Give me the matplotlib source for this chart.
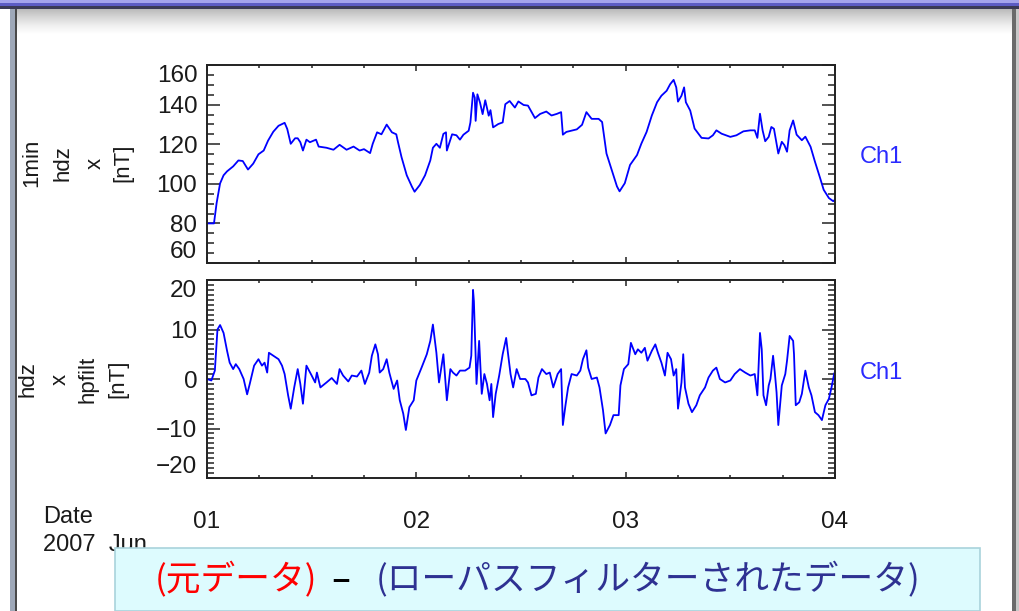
import matplotlib
matplotlib.use('Agg')
import matplotlib.pyplot as plt
from matplotlib.patches import Rectangle
from matplotlib.ticker import MultipleLocator
import numpy as np

# ---------------- data (hours since 2007-06-01 00:00 UT) ----------------
top_hours = [0.0, 0.8, 1.1, 1.5, 1.9, 2.3, 3.0, 3.6, 4.1, 4.7, 5.3, 5.9, 6.5, 7.0, 7.6,
             8.2, 8.9, 9.2, 9.6, 10.1, 10.4, 10.7, 11.0, 11.4, 11.8, 12.5, 12.8, 13.7,
             14.5, 15.2, 16.0, 16.8, 17.5, 18.0, 18.7, 19.0, 19.5, 20.0, 20.6, 21.2,
             21.7, 21.9, 22.3, 22.9, 23.5, 23.8, 24.4, 25.0, 25.6, 25.9, 26.3, 26.7,
             27.1, 27.4, 27.5, 28.1, 28.6, 29.0, 29.4, 30.0, 30.2, 30.5, 30.7, 30.8,
             31.0, 31.3, 31.6, 31.9, 32.3, 32.5, 32.8, 33.4, 33.9, 34.2, 34.7, 35.3,
             35.7, 36.3, 36.8, 37.6, 38.2, 38.9, 39.5, 40.1, 40.6, 40.8, 41.2, 42.4,
             43.0, 43.5, 44.1, 44.9, 45.3, 45.8, 46.4, 47.0, 47.3, 47.9, 48.5, 49.3,
             49.8, 50.4, 51.0, 51.6, 52.1, 52.7, 53.1, 53.5, 53.8, 54.0, 54.4, 54.7,
             54.9, 55.4, 55.9, 56.7, 57.5, 58.0, 58.4, 59.0, 60.0, 60.7, 61.5, 62.3,
             62.8, 63.1, 63.4, 63.7, 64.0, 64.4, 64.7, 65.0, 65.5, 65.9, 66.2, 66.5,
             66.8, 67.2, 67.6, 68.2, 68.6, 69.2, 69.7, 70.3, 70.7, 71.3, 71.8, 72.0]
top_nT = [80, 80, 90.2, 100.2, 104.3, 106.3, 108.8, 111.8, 111.5, 107.2, 110.2, 114.9,
          116.8, 121.8, 126.3, 129.3, 130.8, 127.7, 120.2, 123, 123, 121, 116.8, 122.3,
          121, 122.3, 118.8, 118.2, 117.2, 119.7, 117.2, 118.8, 116.8, 117.5, 115.5,
          120.2, 126, 125, 129.9, 126, 125, 121, 113.5, 104.3, 98.5, 96, 99.4, 104.3,
          111.8, 118.2, 120.2, 118.2, 125.2, 126, 116.8, 125, 124.5, 122.3, 124.8,
          126.8, 131, 146, 143.5, 131.8, 145.2, 141, 135.2, 142.2, 134.4, 137.2, 128.5,
          130.2, 131, 140.2, 141.8, 138.5, 141.6, 139.8, 139.5, 133.2, 135.3, 136.5,
          134.5, 135.3, 136.2, 124.8, 126.2, 127.5, 129.8, 136.2, 132.8, 132.8, 131.2,
          115.3, 107, 98.7, 96.2, 100.3, 109.5, 114.5, 120.3, 126.2, 134.5, 141.2,
          144.5, 147, 150.3, 152.5, 148.7, 141.5, 144.5, 148.7, 141.2, 137, 127.9,
          123.2, 122.9, 124.5, 127, 125.3, 123.7, 124.5, 126.5, 127, 127, 123.2, 135.4,
          127, 121.5, 123.7, 128.7, 127.8, 115.3, 121.2, 119.5, 116.2, 127, 132, 124.8,
          122, 123.8, 118.7, 111.2, 102.8, 97, 92.8, 91.2, 92]

hp_hours = [0.0, 0.5, 0.9, 1.2, 1.5, 1.9, 2.3, 2.6, 3.0, 3.3, 3.7, 4.2, 4.6, 4.9, 5.4,
            5.9, 6.3, 6.6, 6.9, 7.1, 7.6, 8.2, 8.6, 8.9, 9.3, 9.6, 10.0, 10.4, 10.7,
            11.0, 11.4, 12.0, 12.4, 12.6, 13.0, 13.7, 14.3, 14.9, 15.2, 15.6, 16.2,
            16.6, 17.2, 17.7, 18.1, 18.6, 18.9, 19.3, 19.6, 19.8, 20.2, 20.6, 20.9,
            21.4, 21.8, 22.1, 22.5, 22.8, 23.2, 23.7, 24.0, 24.6, 25.2, 25.6, 25.9,
            26.3, 26.6, 27.1, 27.5, 27.9, 28.2, 28.6, 29.0, 29.6, 30.1, 30.3, 30.5,
            30.6, 30.9, 31.2, 31.5, 31.8, 32.1, 32.4, 32.6, 32.8, 33.1, 33.5, 33.9,
            34.3, 34.5, 34.8, 35.1, 35.5, 35.9, 36.5, 36.8, 37.2, 37.7, 38.0, 38.4,
            38.9, 39.3, 39.7, 40.2, 40.6, 40.8, 41.1, 41.4, 41.8, 42.4, 42.8, 43.1,
            43.5, 43.7, 44.1, 44.7, 45.0, 45.4, 45.7, 46.2, 46.6, 47.2, 47.4, 47.8,
            48.3, 48.6, 49.1, 49.4, 49.8, 50.2, 50.5, 51.0, 51.4, 51.7, 52.1, 52.5,
            52.8, 53.2, 53.5, 53.8, 54.0, 54.4, 54.6, 54.8, 55.2, 55.6, 56.1, 56.5,
            57.1, 57.5, 58.0, 58.4, 58.8, 59.4, 60.0, 60.5, 61.1, 61.7, 62.3, 62.8,
            63.1, 63.4, 63.6, 63.8, 64.1, 64.4, 64.6, 64.9, 65.1, 65.3, 65.5, 65.9,
            66.3, 66.5, 66.8, 67.2, 67.3, 67.5, 67.9, 68.2, 68.6, 69.0, 69.3, 69.7,
            70.1, 70.5, 70.9, 71.3, 71.6, 71.9, 72.0]
hp_nT = [0, -0.3, 1.7, 10, 10.9, 9.3, 5.7, 3.3, 2, 3, 2, 0, -3.1, -1, 2.7, 4, 2.7,
         3.3, 1.3, 5.3, 4.7, 4, 2.7, 1, -3.3, -6, -1.7, 2, -1, -5, 2.7, 0.7, -0.7,
         1.3, -1.7, -0.7, 0.2, -1, 2, 0.7, -0.5, 0.7, 0.5, 1.7, -1, 1.3, 4.7, 7, 5,
         1.3, 2, 4, 1.3, -2, -0.3, -4.3, -7, -10.3, -5.7, -4.3, -0.3, 2.3, 5, 7.7, 11,
         5.3, -0.7, 5, -4.3, 2, 1.3, 0.7, 1.7, 1.7, 2.3, 4.7, 18, 15.7, -1, 7.7, -3,
         1, -1, -4.3, -1, -7.7, -3, 0.7, 5, 8.3, 5.3, 1, -1.7, 2, 0, 0, -0.7, -3.3,
         -3, 0.3, 2, 1, 1.3, -1.7, 1, 2, -9.3, -5.3, -1.7, 1, 0.7, 1.7, 4, 5.8, 2.3,
         0, 0.3, -1.7, -6.3, -11, -9.3, -7.3, -7.3, -1.3, 2, 3, 7.3, 5, 6, 5.3, 6.3,
         3.7, 5.7, 7, 5.3, 3.3, 0.7, 5.3, 4, 0.7, 2, -6, -0.7, 5, -1.7, -5, -6.7,
         -5.3, -3.3, -1.7, 0.3, 1.7, 2.3, 0, -0.7, -0.3, 1, 2, 1.3, 0.7, 1, -3.3, 9.3,
         6, -3.3, -5.3, -1.3, 0, 4.7, 1.3, -2.7, -9.3, -1.3, 1, 3.7, 8.7, 7.7, 5,
         -5.3, -4.7, -3, 1.7, -1.7, -3.3, -6.7, -7.3, -8.3, -5.3, -4, -1.7, 1, 1.5]

day_ticks = [0, 24, 48, 72]
day_labels = ['01', '02', '03', '04']
top_yticks = [60, 80, 100, 120, 140, 160]
hp_yticks = [-20, -10, 0, 10, 20]
top_ylabels = ['1min', 'hdz', 'x', '[nT]']
hp_ylabels = ['hdz', 'x', 'hpfilt', '[nT]']

# ---------------- figure ----------------
W, H = 1019, 611
plt.rcParams['font.family'] = ['Liberation Sans', 'DejaVu Sans']
fig = plt.figure(figsize=(W / 100, H / 100), dpi=100)
fig.patch.set_facecolor('white')


def fx(x):
    return x / W


def fy(y):
    return 1 - y / H


# window frame decoration
shade = fig.add_axes([fx(16), fy(34), fx(1012 - 16), 25 / H])
grad = np.linspace(0, 1, 50).reshape(-1, 1)
shade.imshow(grad, cmap='Greys_r', vmin=-1.6, vmax=1, aspect='auto', extent=[0, 1, 0, 1], origin='upper')
shade.set_axis_off()
fig.add_artist(Rectangle((0, fy(3)), 1, 3 / H, transform=fig.transFigure, color='#a4a4ec', lw=0))
fig.add_artist(Rectangle((0, fy(6)), 1, 3 / H, transform=fig.transFigure, color='#5c5cc4', lw=0))
fig.add_artist(Rectangle((0, fy(9)), 1, 3 / H, transform=fig.transFigure, color='#3a3a55', lw=0))
fig.add_artist(Rectangle((fx(10), 0), fx(5), fy(9), transform=fig.transFigure, color='#9ea8b8', lw=0))
fig.add_artist(Rectangle((fx(15), 0), fx(2), fy(9), transform=fig.transFigure, color='#4a4a4a', lw=0))
fig.add_artist(Rectangle((fx(1012), 0), fx(4), fy(9), transform=fig.transFigure, color='#6a6a6a', lw=0))
fig.add_artist(Rectangle((fx(1016), 0), fx(3), fy(9), transform=fig.transFigure, color='#c8c8c8', lw=0))

blue = '#0000ff'
ax1 = fig.add_axes([fx(207), fy(263), fx(835 - 207), (263 - 65) / H])
ax2 = fig.add_axes([fx(207), fy(478), fx(835 - 207), (478 - 280) / H])

ax1.plot(top_hours, top_nT, color=blue, lw=1.3)
ax2.plot(hp_hours, hp_nT, color=blue, lw=1.3)

ax1.set_ylim(60, 160)
ax2.set_ylim(-20, 20)
ax1.set_yticks(top_yticks)
ax2.set_yticks(hp_yticks)
ax1.yaxis.set_minor_locator(MultipleLocator(5))
ax2.yaxis.set_minor_locator(MultipleLocator(1))

for ax in (ax1, ax2):
    ax.set_xlim(0, 72)
    ax.set_xticks(day_ticks)
    ax.set_xticklabels(day_labels)
    ax.xaxis.set_minor_locator(MultipleLocator(6))
    ax.tick_params(which='both', direction='in', top=True, right=True,
                   colors='#222222', width=1.1, labelsize=17.5, labelcolor='#1a1a1a')
    ax.tick_params(axis='y', which='major', length=9.5, pad=7)
    ax.tick_params(axis='y', which='minor', length=5)
    ax.tick_params(axis='x', which='major', length=4.5, pad=24)
    ax.tick_params(axis='x', which='minor', length=2.5)
    for s in ax.spines.values():
        s.set_color('#222222')
        s.set_linewidth(1.4)

ax1.tick_params(axis='x', labelbottom=False)

# end labels nudged inside like the original
t1 = ax1.yaxis.get_major_ticks()
t1[-1].label1.set_verticalalignment('top')
t1[0].label1.set_verticalalignment('bottom')
t2 = ax2.yaxis.get_major_ticks()
t2[-1].label1.set_verticalalignment('top')
t2[0].label1.set_verticalalignment('bottom')

# multi-line y titles
for x, s in zip([32, 63, 95, 123], top_ylabels):
    fig.text(fx(x), fy(163), s, rotation=90, ha='center', va='center',
             fontsize=16, color='#1a1a1a')
for x, s in zip([28, 60, 88, 118], hp_ylabels):
    fig.text(fx(x), fy(379), s, rotation=90, ha='center', va='center',
             fontsize=16, color='#1a1a1a')

fig.text(fx(903), fy(157), 'Ch1', ha='right', va='center', fontsize=17, color='#2a2aff')
fig.text(fx(903), fy(373), 'Ch1', ha='right', va='center', fontsize=17, color='#2a2aff')

fig.text(fx(43), fy(517), 'Date', ha='left', va='center', fontsize=17, color='#1a1a1a')
fig.text(fx(43), fy(545), '2007  Jun', ha='left', va='center', fontsize=17, color='#1a1a1a')

# caption box
fig.add_artist(Rectangle((fx(115), 0), fx(980 - 115), fy(548), transform=fig.transFigure,
                         facecolor='#ddfbfe', edgecolor='#a9d3dc', lw=1.2, zorder=10))
cap_font = ['Noto Sans CJK JP', 'DejaVu Sans']
fig.text(fx(236), fy(580), '(元データ)', ha='center', va='center', fontsize=25,
         color='#ff0000', family=cap_font, zorder=11)
fig.text(fx(341), fy(580), '–', ha='center', va='center', fontsize=25,
         color='#000000', family=cap_font, zorder=11, fontweight='bold')
fig.text(fx(648), fy(580), '(ローパスフィルターされたデータ)', ha='center', va='center',
         fontsize=25, color='#2e3192', family=cap_font, zorder=11)

fig.savefig('out.png', dpi=100)
